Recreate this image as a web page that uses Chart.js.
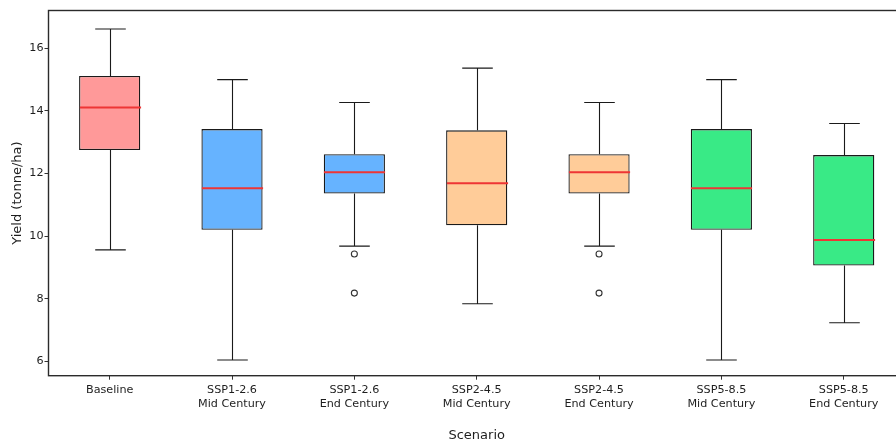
<!DOCTYPE html>
<html>
<head>
<meta charset="utf-8">
<title>Yield by Scenario</title>
<script src="https://cdn.jsdelivr.net/npm/chart.js@4/dist/chart.umd.min.js"></script>
<style>
  html, body { margin: 0; padding: 0; background: #fff; overflow: hidden; }
  canvas { display: block; }
</style>
</head>
<body>
<canvas id="chart" width="910" height="441"></canvas>
<script>
// Scenario categories (multi-line tick labels)
const categories = [
  'Baseline',
  ['SSP1-2.6', 'Mid Century'],
  ['SSP1-2.6', 'End Century'],
  ['SSP2-4.5', 'Mid Century'],
  ['SSP2-4.5', 'End Century'],
  ['SSP5-8.5', 'Mid Century'],
  ['SSP5-8.5', 'End Century']
];

// Box-plot statistics, yield in tonne/ha
const whiskerLow  = [9.56, 6.04, 9.68, 7.84, 9.68, 6.04, 7.23];
const q1          = [12.75, 10.20, 11.36, 10.35, 11.36, 10.20, 9.06];
const median      = [14.11, 11.53, 12.04, 11.69, 12.04, 11.53, 9.88];
const q3          = [15.12, 13.42, 12.62, 13.38, 12.62, 13.42, 12.59];
const whiskerHigh = [16.62, 15.00, 14.27, 15.37, 14.27, 15.00, 13.60];

// Outlying points below the lower whisker
const outliersA = [null, null, 9.43, null, 9.43, null, null];
const outliersB = [null, null, 8.18, null, 8.18, null, null];

// Y axis
const yTicks = [6, 8, 10, 12, 14, 16];
const yMin = 5.54;
const yMax = 17.21;

const boxColors = ['#ff9999', '#66b3ff', '#66b3ff', '#ffcc99', '#ffcc99', '#39ea86', '#39ea86'];

const FONT = 'DejaVu Sans';
const TEXT = '#1e1e1e';

// Whiskers, caps, medians and the axes frame
const boxExtras = {
  id: 'boxExtras',
  afterDatasetsDraw(chart) {
    const { ctx, chartArea, scales: { x, y } } = chart;
    const step = x.getPixelForValue(1) - x.getPixelForValue(0);
    ctx.save();
    ctx.lineCap = 'butt';
    for (let i = 0; i < categories.length; i++) {
      const cx = Math.round(x.getPixelForValue(i)) + 0.5;
      const capHalf = step * 0.125;
      const boxHalf = step * 0.25;
      ctx.strokeStyle = '#1a1a1a';
      ctx.lineWidth = 1.1;
      ctx.beginPath();
      // upper whisker + cap
      ctx.moveTo(cx, y.getPixelForValue(q3[i]));
      ctx.lineTo(cx, y.getPixelForValue(whiskerHigh[i]));
      ctx.moveTo(cx - capHalf, y.getPixelForValue(whiskerHigh[i]));
      ctx.lineTo(cx + capHalf, y.getPixelForValue(whiskerHigh[i]));
      // lower whisker + cap
      ctx.moveTo(cx, y.getPixelForValue(q1[i]));
      ctx.lineTo(cx, y.getPixelForValue(whiskerLow[i]));
      ctx.moveTo(cx - capHalf, y.getPixelForValue(whiskerLow[i]));
      ctx.lineTo(cx + capHalf, y.getPixelForValue(whiskerLow[i]));
      ctx.stroke();
      // median line
      ctx.strokeStyle = '#ee3535';
      ctx.lineWidth = 2;
      ctx.beginPath();
      const my = y.getPixelForValue(median[i]);
      ctx.moveTo(cx - boxHalf, my);
      ctx.lineTo(cx + boxHalf, my);
      ctx.stroke();
    }
    // frame around the plotting area
    ctx.strokeStyle = '#2b2b2b';
    ctx.lineWidth = 1.4;
    ctx.strokeRect(chartArea.left, chartArea.top, chartArea.right - chartArea.left, chartArea.bottom - chartArea.top);
    ctx.restore();
  }
};

new Chart(document.getElementById('chart'), {
  data: {
    labels: categories,
    datasets: [
      {
        type: 'bar',
        label: 'IQR',
        data: q1.map((v, i) => [v, q3[i]]),
        backgroundColor: boxColors,
        borderColor: '#1a1a1a',
        borderWidth: 1.3,
        borderSkipped: false,
        barPercentage: 0.5,
        categoryPercentage: 1.0,
        order: 2
      },
      {
        type: 'line',
        label: 'Outliers',
        data: outliersA,
        showLine: false,
        pointRadius: 3,
        pointBackgroundColor: 'rgba(0,0,0,0)',
        pointBorderColor: '#333',
        pointBorderWidth: 1.1,
        order: 1
      },
      {
        type: 'line',
        label: 'Outliers ',
        data: outliersB,
        showLine: false,
        pointRadius: 3,
        pointBackgroundColor: 'rgba(0,0,0,0)',
        pointBorderColor: '#333',
        pointBorderWidth: 1.1,
        order: 1
      }
    ]
  },
  options: {
    responsive: false,
    animation: false,
    devicePixelRatio: 1,
    layout: { padding: { left: 0, top: 10.5, right: 1, bottom: 0 } },
    plugins: {
      legend: { display: false },
      tooltip: { enabled: false }
    },
    scales: {
      x: {
        type: 'category',
        offset: true,
        grid: { display: true, drawOnChartArea: false, drawTicks: true, tickLength: 4, color: '#333', offset: false },
        border: { display: false },
        ticks: {
          color: TEXT,
          padding: 3,
          maxRotation: 0,
          autoSkip: false,
          font: { family: FONT, size: 11.2, lineHeight: 1.28 }
        },
        title: {
          display: true,
          text: 'Scenario',
          color: TEXT,
          font: { family: FONT, size: 13, lineHeight: 0.9 },
          padding: { top: 0, bottom: 0 }
        },
        afterFit(scale) { scale.height = 65.3; }
      },
      y: {
        type: 'linear',
        min: yMin,
        max: yMax,
        grid: { display: true, drawOnChartArea: false, drawTicks: true, tickLength: 4, color: '#333' },
        border: { display: false },
        afterBuildTicks(scale) { scale.ticks = yTicks.map(v => ({ value: v })); },
        ticks: {
          color: TEXT,
          padding: 1,
          font: { family: FONT, size: 11.2 }
        },
        title: {
          display: true,
          text: 'Yield (tonne/ha)',
          color: TEXT,
          font: { family: FONT, size: 13, lineHeight: 1 },
          padding: { top: 11, bottom: 0 }
        },
        afterFit(scale) { scale.width = 48.5; }
      }
    }
  },
  plugins: [boxExtras]
});
</script>
</body>
</html>
